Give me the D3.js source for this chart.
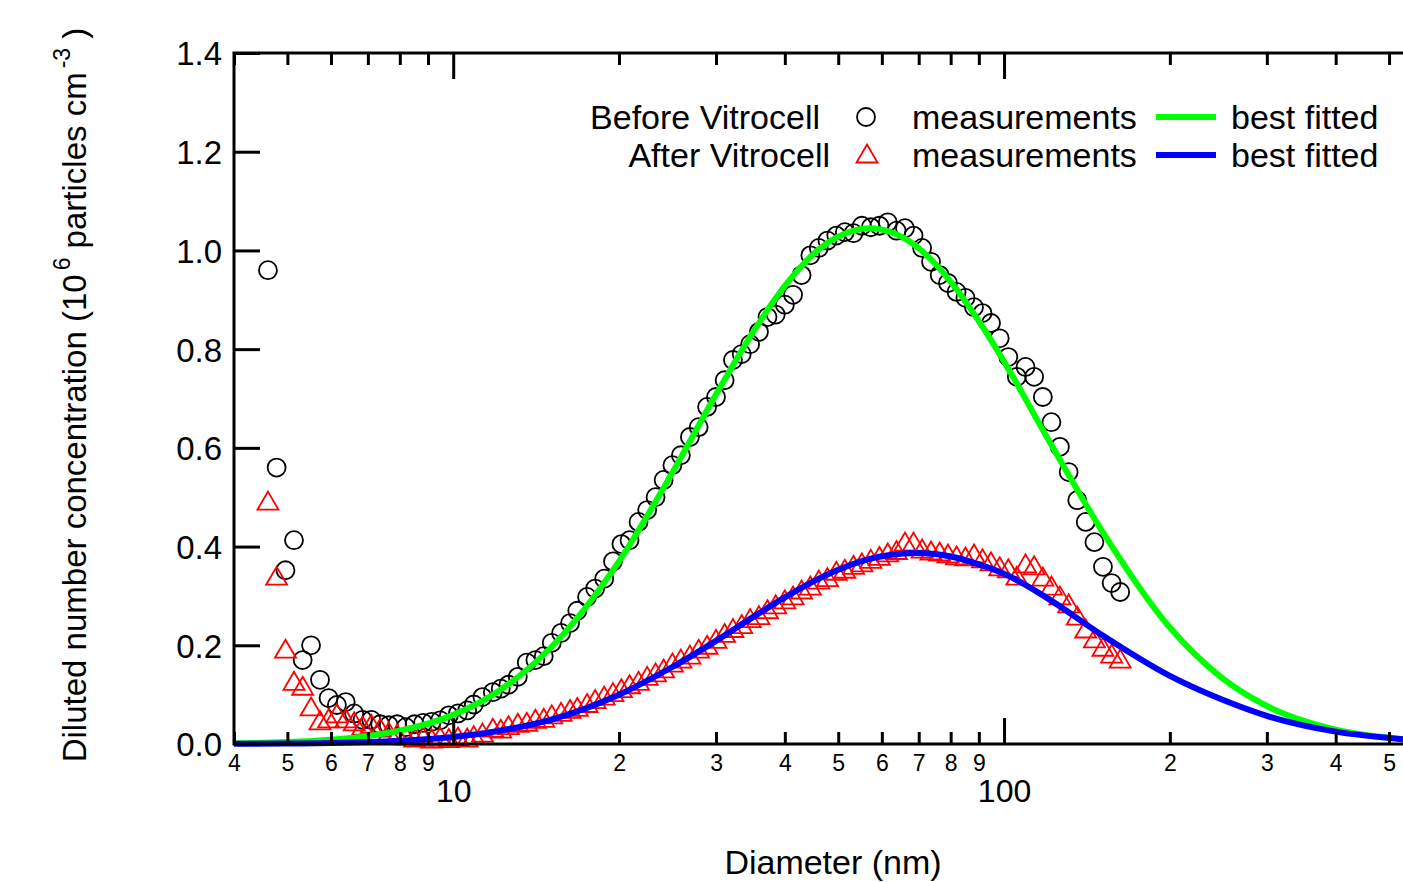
<!DOCTYPE html>
<html>
<head>
<meta charset="utf-8">
<script src="https://cdn.jsdelivr.net/npm/d3@7"></script>
<style>
  body { margin: 0; background: #fff; }
  text { font-family: "Liberation Sans", Arial, sans-serif; fill: #000; }
</style>
</head>
<body>
<svg width="1403" height="882"></svg>
<script>
// measured diameters (nm), one per scan channel
const diam = [4.61, 4.78, 4.96, 5.14, 5.33, 5.52, 5.73, 5.94, 6.15, 6.38,
  6.61, 6.85, 7.10, 7.37, 7.64, 7.91, 8.20, 8.51, 8.82, 9.14,
  9.47, 9.82, 10.2, 10.6, 10.9, 11.3, 11.8, 12.2, 12.6, 13.1,
  13.6, 14.1, 14.6, 15.1, 15.7, 16.3, 16.8, 17.5, 18.1, 18.8,
  19.5, 20.2, 20.9, 21.7, 22.5, 23.3, 24.1, 25.0, 25.9, 26.9,
  27.9, 28.9, 30.0, 31.1, 32.2, 33.4, 34.6, 35.9, 37.2, 38.5,
  40.0, 41.4, 42.9, 44.5, 46.1, 47.8, 49.6, 51.4, 53.3, 55.2,
  57.3, 59.4, 61.5, 63.8, 66.1, 68.5, 71.0, 73.7, 76.4, 79.1,
  82.0, 85.1, 88.2, 91.4, 94.7, 98.2, 101.8, 105.5, 109.4, 113.4,
  117.6, 121.9, 126.3, 131.0, 135.8, 140.7, 145.9, 151.2, 156.8, 162.5];

// before Vitrocell, measurements (10^6 cm^-3)
const before = [0.96, 0.56, 0.352, 0.413, 0.17, 0.20, 0.13, 0.093, 0.079, 0.085,
  0.062, 0.049, 0.049, 0.040, 0.038, 0.040, 0.034, 0.040, 0.043, 0.045,
  0.048, 0.058, 0.062, 0.068, 0.080, 0.095, 0.105, 0.112, 0.120, 0.136,
  0.165, 0.170, 0.178, 0.205, 0.225, 0.245, 0.270, 0.298, 0.315, 0.335,
  0.370, 0.405, 0.413, 0.450, 0.474, 0.500, 0.535, 0.565, 0.585, 0.622,
  0.642, 0.683, 0.703, 0.737, 0.778, 0.790, 0.810, 0.835, 0.865, 0.870,
  0.890, 0.910, 0.950, 0.990, 1.005, 1.020, 1.030, 1.037, 1.035, 1.050,
  1.047, 1.050, 1.057, 1.040, 1.045, 1.030, 1.005, 0.977, 0.950, 0.934,
  0.916, 0.904, 0.885, 0.873, 0.853, 0.822, 0.784, 0.744, 0.764, 0.744,
  0.703, 0.652, 0.602, 0.551, 0.494, 0.450, 0.409, 0.359, 0.326, 0.308];

// after Vitrocell, measurements (10^6 cm^-3)
const after = [0.49, 0.338, 0.19, 0.125, 0.115, 0.073, 0.045, 0.049, 0.059, 0.049,
  0.043, 0.034, 0.038, 0.030, 0.022, 0.018, 0.014, 0.010, 0.012, 0.008,
  0.012, 0.009, 0.012, 0.010, 0.015, 0.020, 0.030, 0.028, 0.035, 0.040,
  0.042, 0.048, 0.050, 0.057, 0.062, 0.068, 0.072, 0.080, 0.088, 0.095,
  0.102, 0.110, 0.118, 0.125, 0.135, 0.142, 0.150, 0.162, 0.170, 0.178,
  0.190, 0.198, 0.210, 0.222, 0.232, 0.240, 0.252, 0.258, 0.270, 0.280,
  0.290, 0.298, 0.310, 0.318, 0.330, 0.335, 0.348, 0.352, 0.360, 0.365,
  0.372, 0.378, 0.385, 0.390, 0.407, 0.407, 0.393, 0.389, 0.387, 0.383,
  0.379, 0.377, 0.383, 0.373, 0.367, 0.357, 0.353, 0.338, 0.363, 0.359,
  0.336, 0.318, 0.298, 0.282, 0.257, 0.231, 0.211, 0.194, 0.180, 0.170];

// fitted curves, read at these diameters
const fitDiam = [4, 5, 6, 7, 8, 10, 12, 15, 20, 25, 30, 35, 40, 45, 50, 57, 62, 69, 75, 80,
  90, 100, 120, 150, 200, 250, 300, 400, 530];
const fitBefore = [0.0013, 0.0039, 0.0087, 0.0163, 0.027, 0.059, 0.105, 0.194, 0.37, 0.55,
  0.708, 0.834, 0.928, 0.992, 1.028, 1.045, 1.038, 1.010, 0.973, 0.937,
  0.857, 0.775, 0.619, 0.435, 0.236, 0.132, 0.077, 0.029, 0.0095];
const fitAfter = [0.0003, 0.0009, 0.002, 0.0038, 0.0064, 0.0144, 0.026, 0.049, 0.10, 0.156,
  0.209, 0.257, 0.297, 0.329, 0.353, 0.375, 0.383, 0.387, 0.385, 0.380,
  0.364, 0.345, 0.295, 0.222, 0.138, 0.089, 0.057, 0.025, 0.0098];

// axis ticks
const xMinorTicks = [4, 5, 6, 7, 8, 9, 20, 30, 40, 50, 60, 70, 80, 90, 200, 300, 400, 500];
const xMinorLabels = ['4', '5', '6', '7', '8', '9', '2', '3', '4', '5', '6', '7', '8', '9', '2', '3', '4', '5'];
const xMajorTicks = [10, 100];
const yTicks = [0, 0.2, 0.4, 0.6, 0.8, 1.0, 1.2, 1.4];

const svg = d3.select('svg');

const plotL = 234, plotT = 53, plotR = 1403, plotB = 744;

// log x scale, linear y scale
const x = d3.scaleLog().domain([4, 530]).range([plotL, plotR]);
const y = d3.scaleLinear().domain([0, 1.4]).range([plotB, plotT]);

// markers
const tri = 'M0,-10.5L10.5,7.5L-10.5,7.5Z';

svg.append('g').selectAll('circle')
  .data(diam)
  .enter()
  .append('circle')
  .attr('cx', d => x(d))
  .attr('cy', (d, i) => y(before[i]))
  .attr('r', 9)
  .attr('fill', 'none')
  .attr('stroke', '#000')
  .attr('stroke-width', 1.8);

svg.append('g').selectAll('path')
  .data(diam)
  .enter()
  .append('path')
  .attr('d', tri)
  .attr('transform', (d, i) => `translate(${x(d)},${y(after[i])})`)
  .attr('fill', 'none')
  .attr('stroke', '#ff0000')
  .attr('stroke-width', 1.8);

// fitted lines
const line = vals => d3.line()
  .x(d => x(d))
  .y((d, i) => y(vals[i]))
  .curve(d3.curveMonotoneX);

svg.append('path')
  .attr('d', line(fitBefore)(fitDiam))
  .attr('fill', 'none')
  .attr('stroke', '#00ff00')
  .attr('stroke-width', 6);

svg.append('path')
  .attr('d', line(fitAfter)(fitDiam))
  .attr('fill', 'none')
  .attr('stroke', '#0000ff')
  .attr('stroke-width', 6);

// axes
const styleAxis = g => {
  g.select('.domain').remove();
  g.selectAll('line').attr('stroke', '#000').attr('stroke-width', 3);
};

// bottom
svg.append('g')
  .attr('transform', `translate(0,${plotB})`)
  .call(d3.axisBottom(x).tickValues(xMinorTicks).tickSize(-12).tickPadding(0)
    .tickFormat((d, i) => xMinorLabels[i]))
  .call(styleAxis)
  .call(g => g.selectAll('text').attr('y', 27).attr('dy', 0).attr('font-size', 23));

svg.append('g')
  .attr('transform', `translate(0,${plotB})`)
  .call(d3.axisBottom(x).tickValues(xMajorTicks).tickSize(-26).tickFormat(d3.format('d')))
  .call(styleAxis)
  .call(g => g.selectAll('text').attr('y', 58).attr('dy', 0).attr('font-size', 32));

// top
svg.append('g')
  .attr('transform', `translate(0,${plotT})`)
  .call(d3.axisTop(x).tickValues(xMinorTicks).tickSize(-12).tickFormat(''))
  .call(styleAxis);

svg.append('g')
  .attr('transform', `translate(0,${plotT})`)
  .call(d3.axisTop(x).tickValues(xMajorTicks).tickSize(-26).tickFormat(''))
  .call(styleAxis);

// left
svg.append('g')
  .attr('transform', `translate(${plotL},0)`)
  .call(d3.axisLeft(y).tickValues(yTicks).tickSize(-26).tickPadding(12).tickFormat(d3.format('.1f')))
  .call(styleAxis)
  .call(g => g.selectAll('text').attr('font-size', 33).attr('dy', '0.36em'));

// spines
svg.append('path')
  .attr('d', `M${plotR},${plotB}H${plotL}V${plotT}H${plotR}`)
  .attr('fill', 'none')
  .attr('stroke', '#000')
  .attr('stroke-width', 3);

// axis titles
svg.append('text')
  .attr('x', 833)
  .attr('y', 874)
  .attr('text-anchor', 'middle')
  .attr('font-size', 34)
  .text('Diameter (nm)');

const yTitle = svg.append('text')
  .attr('transform', 'translate(86,395) rotate(-90)')
  .attr('text-anchor', 'middle')
  .attr('font-size', 33);
yTitle.append('tspan').text('Diluted number concentration (10');
yTitle.append('tspan').attr('dx', 4).attr('dy', -16).attr('font-size', 23).text('6');
yTitle.append('tspan').attr('dy', 16).text(' particles cm');
yTitle.append('tspan').attr('dx', 4).attr('dy', -16).attr('font-size', 23).text('-3');
yTitle.append('tspan').attr('dy', 16).text(' )');

// legend
const legend = svg.append('g');
const rows = [
  { label: 'Before Vitrocell', end: 820, cy: 117, color: '#00ff00', mark: 'circle' },
  { label: 'After Vitrocell', end: 830, cy: 155, color: '#0000ff', mark: 'tri' }
];
rows.forEach(r => {
  legend.append('text').attr('x', r.end).attr('y', r.cy + 12)
    .attr('text-anchor', 'end').attr('font-size', 34).text(r.label);
  if (r.mark === 'circle') {
    legend.append('circle').attr('cx', 866).attr('cy', r.cy).attr('r', 9)
      .attr('fill', 'none').attr('stroke', '#000').attr('stroke-width', 1.8);
  } else {
    legend.append('path').attr('d', tri).attr('transform', `translate(867,${r.cy})`)
      .attr('fill', 'none').attr('stroke', '#ff0000').attr('stroke-width', 1.8);
  }
  legend.append('text').attr('x', 912).attr('y', r.cy + 12).attr('font-size', 34).text('measurements');
  legend.append('line').attr('x1', 1156).attr('x2', 1216).attr('y1', r.cy).attr('y2', r.cy)
    .attr('stroke', r.color).attr('stroke-width', 6);
  legend.append('text').attr('x', 1231).attr('y', r.cy + 12).attr('font-size', 34).text('best fitted');
});
</script>
</body>
</html>
